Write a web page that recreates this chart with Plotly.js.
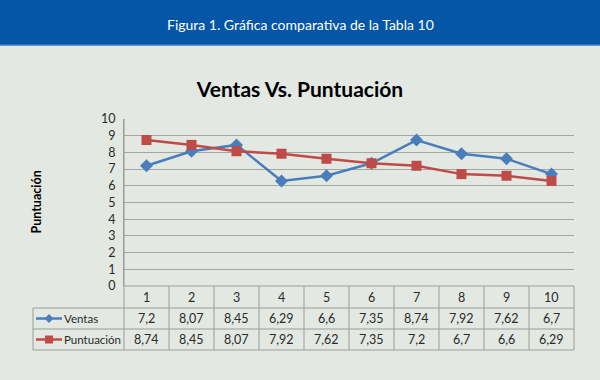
<!DOCTYPE html>
<html>
<head>
<meta charset="utf-8">
<script src="https://cdn.plot.ly/plotly-3.0.1.min.js"></script>
<style>html,body{margin:0;padding:0;background:#e3e8e2;}</style>
</head>
<body>
<div id="chart" style="width:600px;height:380px;"></div>
<script>
// ---- data ----
const categories = [1, 2, 3, 4, 5, 6, 7, 8, 9, 10];
const ventas = [7.2, 8.07, 8.45, 6.29, 6.6, 7.35, 8.74, 7.92, 7.62, 6.7];
const puntuacion = [8.74, 8.45, 8.07, 7.92, 7.62, 7.35, 7.2, 6.7, 6.6, 6.29];
const seriesNames = ['Ventas', 'Puntuación'];
const chartTitle = 'Ventas Vs. Puntuación';
const headerText = 'Figura 1. Gráfica comparativa de la Tabla 10';
const yTitle = 'Puntuación';

// ---- layout geometry (pixels) ----
const W = 600, H = 380;
const L = 124, R = 574, T = 119, B = 286;
const TL = 33;                 // table left edge
const rowTop = [286, 308, 329, 350];
const px2x = p => (p - L) / (R - L);
const px2y = p => (B - p) / (B - T);

const blue = '#4a7ebb', red = '#be4b48';
const gridCol = '#a3a6a3', tblCol = '#9a9d9a';
const bg = '#e3e8e2';
const fmt = v => String(v).replace('.', ',');
const fontFam = 'Lato, "Open Sans", sans-serif';

const traces = [
  {x: categories, y: ventas, name: seriesNames[0], type: 'scatter', mode: 'lines+markers',
   line: {color: blue, width: 2.5}, marker: {symbol: 'diamond', size: 10, color: blue}, cliponaxis: false},
  {x: categories, y: puntuacion, name: seriesNames[1], type: 'scatter', mode: 'lines+markers',
   line: {color: red, width: 2.5}, marker: {symbol: 'square', size: 10, color: red}, cliponaxis: false}
];

const shapes = [];
const annotations = [];

// header bar
shapes.push({type: 'rect', xref: 'paper', yref: 'paper', layer: 'below',
  x0: px2x(0), x1: px2x(W), y0: px2y(45), y1: px2y(0),
  fillcolor: '#0656a8', line: {width: 0}});
shapes.push({type: 'line', xref: 'paper', yref: 'paper',
  x0: px2x(0), x1: px2x(W), y0: px2y(45), y1: px2y(45),
  line: {color: '#3a7cc0', width: 1.5}});
annotations.push({xref: 'paper', yref: 'paper', x: px2x(300), y: px2y(24),
  text: headerText, showarrow: false, xanchor: 'center', yanchor: 'middle',
  font: {family: fontFam, size: 14, color: '#ffffff'}});

// y-axis title
annotations.push({xref: 'paper', yref: 'paper', x: px2x(36), y: 0.5, textangle: -90,
  text: '<b>' + yTitle + '</b>', showarrow: false, xanchor: 'center', yanchor: 'middle',
  font: {family: fontFam, size: 12.5, color: '#000'}});

// table horizontal lines
shapes.push({type: 'line', xref: 'paper', yref: 'paper', x0: 0, x1: 1, y0: px2y(rowTop[0]), y1: px2y(rowTop[0]), line: {color: tblCol, width: 1}});
for (let r = 1; r < rowTop.length; r++) {
  shapes.push({type: 'line', xref: 'paper', yref: 'paper', x0: px2x(TL), x1: 1,
    y0: px2y(rowTop[r]), y1: px2y(rowTop[r]), line: {color: tblCol, width: 1}});
}
// table vertical lines
shapes.push({type: 'line', xref: 'paper', yref: 'paper', x0: px2x(TL), x1: px2x(TL), y0: px2y(rowTop[1]), y1: px2y(rowTop[3]), line: {color: tblCol, width: 1}});
shapes.push({type: 'line', xref: 'paper', yref: 'paper', x0: 0, x1: 0, y0: 1, y1: px2y(rowTop[3]), line: {color: tblCol, width: 1}});
shapes.push({type: 'line', xref: 'paper', yref: 'paper', x0: 1, x1: 1, y0: px2y(rowTop[0]), y1: px2y(rowTop[3]), line: {color: tblCol, width: 1}});
for (let i = 0; i < categories.length - 1; i++) {
  const xb = categories[i] + 0.5;
  shapes.push({type: 'line', xref: 'x', yref: 'paper', x0: xb, x1: xb, y0: px2y(rowTop[0]), y1: px2y(rowTop[3]), line: {color: tblCol, width: 1}});
}

// table text
const rowMid = r => px2y((rowTop[r] + rowTop[r + 1]) / 2);
const cellFont = {family: fontFam, size: 12.5, color: '#2a2a2a'};
const labelFont = {family: fontFam, size: 11.5, color: '#2a2a2a'};
categories.forEach((c, i) => {
  annotations.push({xref: 'x', yref: 'paper', x: c, y: rowMid(0), text: String(c), showarrow: false, font: cellFont, xanchor: 'center', yanchor: 'middle'});
  annotations.push({xref: 'x', yref: 'paper', x: c, y: rowMid(1), text: fmt(ventas[i]), showarrow: false, font: cellFont, xanchor: 'center', yanchor: 'middle'});
  annotations.push({xref: 'x', yref: 'paper', x: c, y: rowMid(2), text: fmt(puntuacion[i]), showarrow: false, font: cellFont, xanchor: 'center', yanchor: 'middle'});
});

// row labels with legend keys
const keyColors = [blue, red];
seriesNames.forEach((nm, k) => {
  const yc = (rowTop[k + 1] + rowTop[k + 2]) / 2;
  shapes.push({type: 'line', xref: 'paper', yref: 'paper', x0: px2x(36), x1: px2x(62), y0: px2y(yc), y1: px2y(yc), line: {color: keyColors[k], width: 2.5}});
  const cx = 49, h = k === 0 ? 4.5 : 4;
  let path;
  if (k === 0) {
    path = `M${px2x(cx)},${px2y(yc - h)} L${px2x(cx + h)},${px2y(yc)} L${px2x(cx)},${px2y(yc + h)} L${px2x(cx - h)},${px2y(yc)} Z`;
  } else {
    path = `M${px2x(cx - h)},${px2y(yc - h)} L${px2x(cx + h)},${px2y(yc - h)} L${px2x(cx + h)},${px2y(yc + h)} L${px2x(cx - h)},${px2y(yc + h)} Z`;
  }
  shapes.push({type: 'path', xref: 'paper', yref: 'paper', path: path, fillcolor: keyColors[k], line: {width: 0}});
  annotations.push({xref: 'paper', yref: 'paper', x: px2x(62), y: px2y(yc), text: nm, showarrow: false,
    xanchor: 'left', yanchor: 'middle', font: labelFont});
});

const layout = {
  width: W, height: H,
  margin: {l: L, r: W - R, t: T, b: H - B, pad: 0},
  paper_bgcolor: bg, plot_bgcolor: bg,
  showlegend: false,
  title: {text: '<b>' + chartTitle + '</b>', x: 0.5, xref: 'container', xanchor: 'center',
    y: 1 - 90 / H, yref: 'container', yanchor: 'middle',
    font: {family: fontFam, size: 21, color: '#000'}},
  xaxis: {range: [0.5, 10.5], showticklabels: false, showgrid: false, zeroline: false, showline: false, ticks: '', fixedrange: true},
  yaxis: {range: [0, 10], dtick: 1, tick0: 0, showgrid: true, gridcolor: gridCol, gridwidth: 1,
    zeroline: false, showline: true, linecolor: tblCol, linewidth: 1, ticks: '',
    ticklabelstandoff: 5,
    tickfont: {family: fontFam, size: 12.5, color: '#2a2a2a'}, fixedrange: true},
  shapes: shapes,
  annotations: annotations
};

Plotly.newPlot('chart', traces, layout, {displayModeBar: false, staticPlot: true});
</script>
</body>
</html>
